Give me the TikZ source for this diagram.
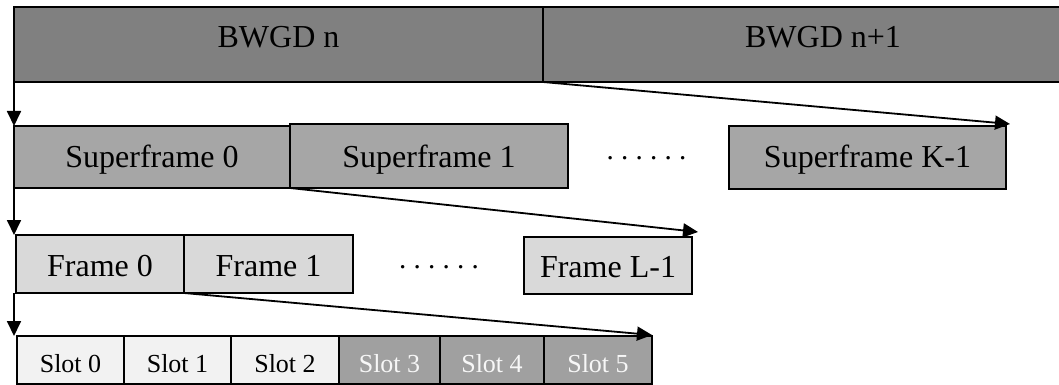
\documentclass[tikz,border=0pt]{standalone}
\usepackage{fontspec}
\setmainfont{Liberation Serif}
\usetikzlibrary{arrows.meta,calc}

\definecolor{bwgdfill}{HTML}{808080}
\definecolor{sffill}{HTML}{A6A6A6}
\definecolor{framefill}{HTML}{D9D9D9}
\definecolor{slotlight}{HTML}{F2F2F2}
\definecolor{slotdark}{HTML}{A0A0A0}
\definecolor{slottext}{HTML}{F7F7F7}

\tikzset{
  cell/.style={draw=black, line width=2pt, rectangle, inner sep=0pt, outer sep=0pt,
               anchor=north west, align=center},
  bigtext/.style={font=\fontsize{32}{36}\selectfont},
  smalltext/.style={font=\fontsize{26}{30}\selectfont},
  bwgdcell/.style={cell, bigtext, fill=bwgdfill, text height=41pt, text depth=34pt},
  sfcell/.style={cell, bigtext, fill=sffill},
  framecell/.style={cell, bigtext, fill=framefill},
  slotcell/.style={cell, smalltext, fill=slotlight, text height=36pt, text depth=12pt},
  darkslot/.style={slotcell, fill=slotdark, text=slottext},
  link/.style={line width=1.8pt, -{Triangle[length=15pt,width=14pt]}},
  dots/.style={font=\fontsize{29}{32}\selectfont, anchor=base}
}

\begin{document}
\begin{tikzpicture}[x=1pt, y=-1pt]
  \path[use as bounding box] (0,0) rectangle (1059,385);
  \clip (0,0) rectangle (1059,385);

  % BWGD row
  \node[bwgdcell, minimum width=529pt] (bw0) at (14,7) {BWGD n};
  \node[bwgdcell, minimum width=560pt] (bw1) at (543,7) {BWGD n+1};

  % superframe row
  \node[sfcell, minimum width=276pt, text height=41pt, text depth=21pt] (sf0) at (14,126) {Superframe 0};
  \node[sfcell, minimum width=278pt, text height=43pt, text depth=21pt] (sf1) at (290,124) {Superframe 1};
  \node[dots] (sfdots) at (646.5,159) {.~.~.~.~.~.};
  \node[sfcell, minimum width=277pt, text height=41pt, text depth=22pt] (sfk) at (729,126) {Superframe K-1};

  % frame row
  \node[framecell, minimum width=168pt, text height=41pt, text depth=17pt] (fr0) at (16,235) {Frame 0};
  \node[framecell, minimum width=169pt, text height=41pt, text depth=17pt] (fr1) at (184,235) {Frame 1};
  \node[dots] (frdots) at (439,268) {.~.~.~.~.~.};
  \node[framecell, minimum width=168pt, text height=40pt, text depth=17pt] (frl) at (524,237) {Frame L-1};

  % slot row
  \node[slotcell, minimum width=107pt] (s0) at (17,336) {Slot 0};
  \node[slotcell, minimum width=107pt] (s1) at (124,336) {Slot 1};
  \node[slotcell, minimum width=108pt] (s2) at (231,336) {Slot 2};
  \node[darkslot, minimum width=101pt] (s3) at (339,336) {Slot 3};
  \node[darkslot, minimum width=104pt] (s4) at (440,336) {Slot 4};
  \node[darkslot, minimum width=108pt] (s5) at (544,336) {Slot 5};

  % the first unit of each level opens into the level below
  \draw[link] (bw0.south west) -- (bw0.south west |- sf0.north);
  \draw[link] (sf0.south west) -- (sf0.south west |- fr0.north);
  \draw[link] (sf0.south west |- fr0.south) -- (sf0.south west |- s0.north);

  % the second unit spans the whole level below
  \draw[link] (bw1.south west) -- ($(sfk.north east)+(4,-2)$);
  \draw[link] (sf1.south west) -- ($(frl.north east)+(6,-5)$);
  \draw[link] (fr1.south west) -- ($(s5.north east)+(0,-1)$);
\end{tikzpicture}
\end{document}
